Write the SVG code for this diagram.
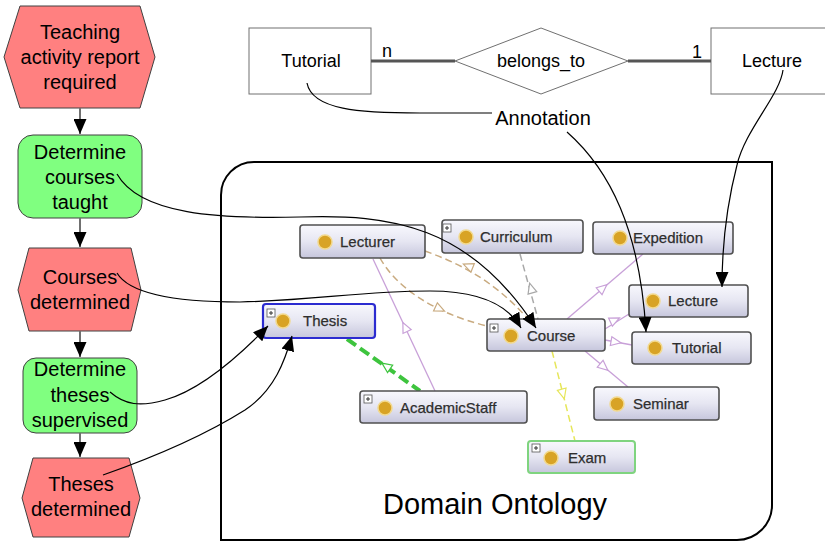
<svg xmlns="http://www.w3.org/2000/svg" xmlns:xlink="http://www.w3.org/1999/xlink" width="825" height="543" viewBox="0 0 825 543">
<style>
.ft{font-family:"Liberation Sans",Arial,sans-serif;font-size:20px;fill:#000;text-anchor:middle}
.er{font-family:"Liberation Sans",Arial,sans-serif;font-size:18px;fill:#000}
.hex{fill:#ff8080;stroke:#404040;stroke-width:1}
.fn{fill:#80ff80;stroke:#404040;stroke-width:1}
.erbox{fill:#fff;stroke:#707070;stroke-width:1}
.flow{stroke:#707070;stroke-width:2;fill:none;marker-end:url(#head)}
.ann{stroke:#000;stroke-width:1.2;fill:none}
.annA{stroke:#000;stroke-width:1.2;fill:none;marker-end:url(#head)}
.on{fill:url(#ng);stroke:#505050;stroke-width:1.6}
.ot{font-family:"Liberation Sans",Arial,sans-serif;font-size:15px;fill:#2e2e2e;stroke:#2e2e2e;stroke-width:0.25}
.dot{fill:#d8a325;stroke:#f2d98e;stroke-width:1.5}
.pl{fill:#fff;stroke:#555;stroke-width:0.8}
.pp{stroke:#333;stroke-width:1;fill:none}
</style>
<defs>
<linearGradient id="ng" x1="0" y1="0" x2="0" y2="1">
<stop offset="0" stop-color="#f8f8fd"/>
<stop offset="0.5" stop-color="#e6e6f2"/>
<stop offset="1" stop-color="#c6c6dc"/>
</linearGradient>
<marker id="head" markerUnits="userSpaceOnUse" markerWidth="15" markerHeight="13" viewBox="0 0 15 13" refX="15" refY="6.5" orient="auto">
<path d="M0,0 L15,6.5 L0,13 Z" fill="#000"/>
</marker>
<path id="tri" d="M-5,-4.5 L5,0 L-5,4.5 Z" fill="#fff" stroke-width="1.2"/>
</defs>

<rect width="825" height="543" fill="#fff"/>

<!-- ontology frame -->
<g id="ontology-frame">
<path d="M221,540 L221,195 A33,33 0 0 1 254,162 L772,162 L772,505 A35,35 0 0 1 737,540 Z" fill="#fff" stroke="#000" stroke-width="2"/>
<text x="495" y="514" font-family="Liberation Sans, Arial, sans-serif" font-size="29" text-anchor="middle" fill="#000">Domain Ontology</text>
</g>

<!-- ontology edges -->
<g id="ontology-edges" fill="none">
<path d="M425,251 C455,262 492,278 528,319" stroke="#c9ab80" stroke-width="1.5" stroke-dasharray="7,4"/>
<path d="M380,258 C395,285 430,312 487,326" stroke="#c9ab80" stroke-width="1.5" stroke-dasharray="7,4"/>
<path d="M520,254 L538,319" stroke="#a8a8a8" stroke-width="1.5" stroke-dasharray="7,4"/>
<path d="M373,259 L435,391" stroke="#c8a0d8" stroke-width="1.3"/>
<path d="M347,339 L420,391" stroke="#3ec43e" stroke-width="4" stroke-dasharray="11,5"/>
<path d="M567,319 L643,254" stroke="#c8a0d8" stroke-width="1.3"/>
<path d="M605,329 L629,314" stroke="#c8a0d8" stroke-width="1.3"/>
<path d="M605,340 L632,345" stroke="#c8a0d8" stroke-width="1.3"/>
<path d="M585,351 L628,387" stroke="#c8a0d8" stroke-width="1.3"/>
<path d="M552,351 L575,441" stroke="#e6e65a" stroke-width="1.5" stroke-dasharray="7,4"/>
<use xlink:href="#tri" stroke="#c9ab80" transform="translate(468,266) rotate(-158)"/>
<use xlink:href="#tri" stroke="#c9ab80" transform="translate(440,309) rotate(25)"/>
<use xlink:href="#tri" stroke="#a8a8a8" transform="translate(531,288) rotate(-106)"/>
<use xlink:href="#tri" stroke="#c8a0d8" transform="translate(405,327) rotate(-115)"/>
<use xlink:href="#tri" stroke="#3ec43e" transform="translate(386,366) rotate(-145)"/>
<use xlink:href="#tri" stroke="#c8a0d8" transform="translate(603,288) rotate(-40)"/>
<use xlink:href="#tri" stroke="#c8a0d8" transform="translate(615,320) rotate(-25)"/>
<use xlink:href="#tri" stroke="#c8a0d8" transform="translate(616,342) rotate(10)"/>
<use xlink:href="#tri" stroke="#c8a0d8" transform="translate(604,367) rotate(40)"/>
<use xlink:href="#tri" stroke="#e6e65a" transform="translate(563,394) rotate(75)"/>
</g>

<!-- ontology nodes -->
<g id="o-lecturer">
<rect class="on" x="300" y="225" width="125" height="33" rx="3"/>
<circle class="dot" cx="325" cy="242" r="7"/>
<text class="ot" x="340" y="247">Lecturer</text>
</g>
<g id="o-curriculum">
<rect class="on" x="442" y="220" width="141" height="33" rx="3"/>
<rect class="pl" x="443" y="224" width="8" height="8"/><path class="pp" d="M445,228 H449 M447,226 V230"/>
<circle class="dot" cx="466" cy="237" r="7"/>
<text class="ot" x="480" y="242">Curriculum</text>
</g>
<g id="o-thesis">
<rect x="263" y="304" width="112" height="34" rx="3" fill="url(#ng)" stroke="#2b2bd0" stroke-width="2.2"/>
<rect class="pl" x="267" y="309" width="8" height="8"/><path class="pp" d="M269,313 H273 M271,311 V315"/>
<circle class="dot" cx="283" cy="321" r="7"/>
<text class="ot" x="303" y="326">Thesis</text>
</g>
<g id="o-course">
<rect class="on" x="487" y="319" width="118" height="32" rx="3"/>
<rect class="pl" x="490" y="324" width="8" height="8"/><path class="pp" d="M492,328 H496 M494,326 V330"/>
<circle class="dot" cx="511" cy="336" r="7"/>
<text class="ot" x="527" y="341">Course</text>
</g>
<g id="o-expedition">
<rect class="on" x="593" y="222" width="140" height="32" rx="3"/>
<circle class="dot" cx="620" cy="238" r="7"/>
<text class="ot" x="633" y="243">Expedition</text>
</g>
<g id="o-lecture">
<rect class="on" x="629" y="285" width="119" height="32" rx="3"/>
<circle class="dot" cx="653" cy="301" r="7"/>
<text class="ot" x="668" y="306">Lecture</text>
</g>
<g id="o-tutorial">
<rect class="on" x="632" y="332" width="119" height="32" rx="3"/>
<circle class="dot" cx="655" cy="348" r="7"/>
<text class="ot" x="672" y="353">Tutorial</text>
</g>
<g id="o-academicstaff">
<rect class="on" x="360" y="391" width="167" height="32" rx="3"/>
<rect class="pl" x="364" y="395" width="8" height="8"/><path class="pp" d="M366,399 H370 M368,397 V401"/>
<circle class="dot" cx="385" cy="408" r="7"/>
<text class="ot" x="400" y="413">AcademicStaff</text>
</g>
<g id="o-seminar">
<rect class="on" x="594" y="387" width="125" height="33" rx="3"/>
<circle class="dot" cx="617" cy="404" r="7"/>
<text class="ot" x="633" y="409">Seminar</text>
</g>
<g id="o-exam">
<rect x="528" y="441" width="107" height="32" rx="3" fill="url(#ng)" stroke="#7fd47f" stroke-width="2"/>
<rect class="pl" x="532" y="444" width="8" height="8"/><path class="pp" d="M534,448 H538 M536,446 V450"/>
<circle class="dot" cx="551" cy="458" r="7"/>
<text class="ot" x="568" y="463">Exam</text>
</g>

<!-- ER diagram -->
<g id="er-tutorial">
<rect class="erbox" x="249" y="28" width="122" height="66"/>
<text class="er" x="311" y="67" text-anchor="middle">Tutorial</text>
</g>
<g id="er-belongs_to">
<polygon points="455,61 541,28 628,61 541,94" fill="#fff" stroke="#707070" stroke-width="1"/>
<text class="er" x="541" y="67" text-anchor="middle">belongs_to</text>
</g>
<g id="er-lecture">
<rect class="erbox" x="711" y="28" width="130" height="66"/>
<text class="er" x="772" y="67" text-anchor="middle">Lecture</text>
</g>
<g id="annotation-label">
<text x="543" y="125" font-family="Liberation Sans, Arial, sans-serif" font-size="20" text-anchor="middle" fill="#000">Annotation</text>
</g>

<!-- flow nodes -->
<g id="f-teaching-report">
<polygon class="hex" points="20,6 140,6 155,57 140,108 20,108 4,57"/>
<text class="ft" x="80" y="39">Teaching</text>
<text class="ft" x="80" y="64">activity report</text>
<text class="ft" x="80" y="89">required</text>
</g>
<g id="f-determine-courses">
<rect class="fn" x="18" y="135" width="124" height="83" rx="15"/>
<text class="ft" x="80" y="159">Determine</text>
<text class="ft" x="80" y="184">courses</text>
<text class="ft" x="80" y="209">taught</text>
</g>
<g id="f-courses-determined">
<polygon class="hex" points="29,248 131,248 141,290 131,331 29,331 18,290"/>
<text class="ft" x="80" y="284">Courses</text>
<text class="ft" x="80" y="309">determined</text>
</g>
<g id="f-determine-theses">
<rect class="fn" x="23" y="358" width="114" height="75" rx="13"/>
<text class="ft" x="80" y="376">Determine</text>
<text class="ft" x="80" y="402">theses</text>
<text class="ft" x="80" y="427">supervised</text>
</g>
<g id="f-theses-determined">
<polygon class="hex" points="33,458 129,458 140,498 129,537 33,537 22,498"/>
<text class="ft" x="81" y="491">Theses</text>
<text class="ft" x="81" y="516">determined</text>
</g>

<!-- connectors -->
<g id="connectors">
<path class="flow" d="M80,108 V134"/>
<path class="flow" d="M80,218 V247"/>
<path class="flow" d="M80,331 V357"/>
<path class="flow" d="M80,433 V457"/>
<path d="M371,61 H455 M628,61 H711" stroke="#555" stroke-width="3" fill="none"/>
<text class="er" x="382" y="57">n</text>
<text class="er" x="692" y="58">1</text>
<path class="ann" d="M307,83 C312,110 360,113 420,113 L492,113"/>
<path class="annA" d="M567,132 C610,170 640,230 646,332"/>
<path class="annA" d="M783,70 C780,95 745,130 737,165 C728,200 722,240 722,287"/>
<path class="annA" d="M117,174 C140,215 220,219 300,217 C390,214 470,225 536,328"/>
<path class="annA" d="M117,273 C130,295 180,302 240,302 C320,300 360,291 430,291 C480,291 508,305 521,328"/>
<path class="annA" d="M110,392 C125,405 140,407 165,400 C200,390 240,355 268,326"/>
<path class="annA" d="M103,475 C160,455 210,432 245,410 C275,390 285,360 292,336"/>
</g>
</svg>
